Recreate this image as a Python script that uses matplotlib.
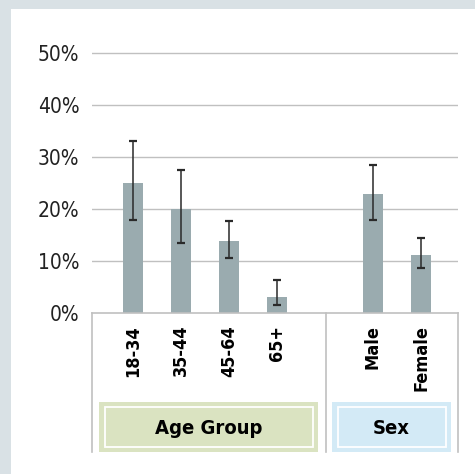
import matplotlib.pyplot as plt
from matplotlib.patches import Rectangle
from matplotlib.lines import Line2D

# data (percent)
categories = ['18-34', '35-44', '45-64', '65+', 'Male', 'Female']
positions = [0, 1, 2, 3, 5, 6]
values = [25.0, 20.0, 13.9, 3.1, 22.9, 11.2]
err_low = [17.9, 13.5, 10.5, 1.5, 17.9, 8.7]
err_high = [33.1, 27.5, 17.7, 6.3, 28.5, 14.4]
y_ticks = [0, 10, 20, 30, 40, 50]
groups = ['Age Group', 'Sex']

FONT = dict(family='DejaVu Sans', fontstretch='condensed')

W, H = 475, 474
fig = plt.figure(figsize=(W / 100, H / 100), dpi=100)
fig.patch.set_facecolor('#d9e1e5')

def fx(px):
    return px / W

def fy(py):
    return 1 - py / H

# white panel
fig.patches.append(Rectangle((fx(11), 0), 1 - fx(11), fy(9), transform=fig.transFigure,
                             facecolor='white', edgecolor='none', zorder=-5))

ax = fig.add_axes([fx(92), fy(313), fx(458) - fx(92), fy(48.1) - fy(313)])
ax.set_facecolor('none')
ax.set_zorder(1)

grid_c = '#c0c0c0'
for t in y_ticks[1:]:
    ax.axhline(t, color=grid_c, lw=1.0, zorder=1)

lower = [v - lo for v, lo in zip(values, err_low)]
upper = [hi - v for v, hi in zip(values, err_high)]
ax.bar(positions, values, width=0.41, color='#9aabaf', zorder=2)
ax.errorbar(positions, values, yerr=[lower, upper], fmt='none', ecolor='#2a2a2a',
            elinewidth=1.1, capsize=3, capthick=1.6, zorder=3)

ax.set_xlim(-0.85, 6.77)
ax.set_ylim(0, 51)
ax.set_yticks(y_ticks)
ax.set_yticklabels([f'{t}%' for t in y_ticks], fontsize=15, color='#222222', **FONT)
ax.tick_params(axis='y', length=0, pad=9)
ax.set_xticks([])
for s in ['left', 'right', 'top']:
    ax.spines[s].set_visible(False)
ax.spines['bottom'].set_color(grid_c)
ax.spines['bottom'].set_linewidth(1.2)

# category labels below the axis
tr = ax.get_xaxis_transform()
for p, c in zip(positions, categories):
    ax.text(p, -0.045, c, transform=tr, rotation=90, ha='center', va='top',
            fontsize=13, fontweight='bold', color='black', **FONT)

# frame lines of the category area
for xp in [92, 326, 458]:
    fig.lines.append(Line2D([fx(xp), fx(xp)], [fy(313), fy(452)], transform=fig.transFigure,
                            color=grid_c, lw=1.2, zorder=1))

# group boxes
boxes = [(99, 318, '#dae3c1'), (332, 451, '#d3eaf6')]
for (x0, x1, col), g in zip(boxes, groups):
    fig.patches.append(Rectangle((fx(x0), fy(452)), fx(x1) - fx(x0), fy(402) - fy(452),
                                 transform=fig.transFigure, facecolor=col, edgecolor='none', zorder=2))
    fig.patches.append(Rectangle((fx(x0 + 5.5), fy(447)), fx(x1 - x0 - 11), fy(407) - fy(447),
                                 transform=fig.transFigure, facecolor='none', edgecolor='white',
                                 lw=1.3, zorder=3))
    fig.text(fx((x0 + x1) / 2), fy(429), g, ha='center', va='center', fontsize=14.5,
             fontweight='bold', color='black', zorder=4, **FONT)

fig.savefig('out.png', dpi=100, facecolor=fig.get_facecolor())
